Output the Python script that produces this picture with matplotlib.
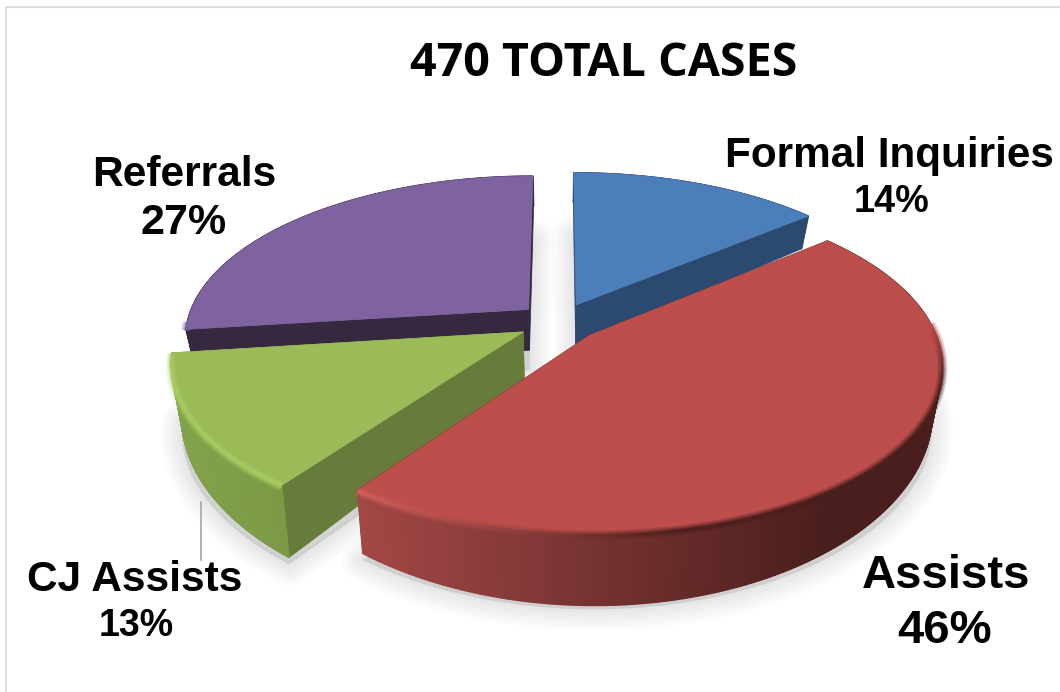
#!/usr/bin/env python3
"""Exploded pseudo-3D pie of the 470 cases."""

import numpy as np
import matplotlib
matplotlib.use('Agg')
import matplotlib.pyplot as plt
from matplotlib.collections import LineCollection, PolyCollection
from matplotlib.colors import to_rgb

# data
categories = ['Formal Inquiries', 'Assists', 'CJ Assists', 'Referrals']
shares = [14, 46, 13, 27]
title = '470 TOTAL CASES'

# slice styles: top, radial wall, outer wall left/right (by screen x), rim highlight
top_colors = ['#4C7EBA', '#BC4E4B', '#9BBB59', '#7F63A0']
side_colors = ['#2C4A70', '#4A1E1C', '#677C3B', '#35283F']
wall_left = ['#2C4A70', '#A34846', '#83A24C', '#35283F']
wall_right = ['#2C4A70', '#4A1E1C', '#7C9A46', '#35283F']
rim_colors = ['#5B8CC8', '#DD6461', '#AFD465', '#8C70AE']
depth_scale = [1, 1, 1.15, 1]

# fake camera, in pixels of the 1060x692 picture
X0, Y0 = 559, 322
RX, RY = 342, 160
PERSP = 0.17
EXPLODE = 0.12
THICK = 42
THICK_PERSP = 0.38
CONVERGE = 0.027  # walls lean towards the centre at their foot


def project(u, v):
    w = 1 / (1 + PERSP * v)
    return X0 + RX * u * w, Y0 - RY * v * w


def thickness(v):
    return THICK / (1 + THICK_PERSP * v)


def foot(x):
    return x + (X0 - x) * CONVERGE


def mix(c1, c2, t):
    a, b = np.array(to_rgb(c1)), np.array(to_rgb(c2))
    return tuple(a + (b - a) * t)


fig = plt.figure(figsize=(10.6, 6.92), dpi=100)
ax = fig.add_axes([0, 0, 1, 1])
ax.set_xlim(0, 1060)
ax.set_ylim(692, 0)
ax.axis('off')

# outer frame
ax.plot([6, 6, 1060], [692, 7, 7], color='#DDDDDD', lw=1.5, zorder=0)

# compute the slices, clockwise from twelve o'clock
edges = np.cumsum([0] + shares) / sum(shares) * 2 * np.pi
slices = []
for i in range(len(shares)):
    a0, a1 = edges[i], edges[i + 1]
    mid = (a0 + a1) / 2
    ou, ov = EXPLODE * np.sin(mid), EXPLODE * np.cos(mid)
    t = np.linspace(a0, a1, 240)
    slices.append((ou + np.sin(t), ov + np.cos(t), ou, ov))

# soft shadows go under everything
for i, (u, v, ou, ov) in enumerate(slices):
    ru = np.r_[ou, u]
    rv = np.r_[ov, v]
    px, py = project(ru, rv)
    py = py + thickness(rv) * depth_scale[i] + 5 + 14 * (1 + rv)
    for lw in [30, 25, 20, 15, 10, 5]:
        ax.fill(foot(px), py, facecolor='#000000', edgecolor='#000000', alpha=0.014,
                lw=lw, joinstyle='round', zorder=1)

# back to front
for rank, i in enumerate([3, 0, 2, 1]):
    u, v, ou, ov = slices[i]
    z = 10 + rank
    ax_px, ax_py = project(ou, ov)
    px, py = project(u, v)
    d = thickness(v) * depth_scale[i]
    d0 = thickness(np.array(ov)) * depth_scale[i]

    # radial walls
    for j in [0, -1]:
        wall = [(ax_px, ax_py), (px[j], py[j]), (foot(px[j]), py[j] + d[j]), (foot(ax_px), ax_py + d0)]
        ax.fill(*zip(*wall), color=side_colors[i], lw=0.5, zorder=z)

    # outer wall, shaded by screen x
    quads, cols = [], []
    span = (px.min(), min(px.max(), 830) if i == 1 else px.max())
    for j in range(len(px) - 1):
        quads.append([(px[j], py[j]), (px[j + 1], py[j + 1]),
                      (foot(px[j + 1]), py[j + 1] + d[j + 1]), (foot(px[j]), py[j] + d[j])])
        t = np.clip((px[j] - span[0]) / (span[1] - span[0]), 0, 1)
        cols.append(mix(wall_left[i], wall_right[i], t))
    ax.add_collection(PolyCollection(quads, facecolors=cols, edgecolors=cols, lw=1.0, zorder=z + 0.1))

    # top face
    ax.fill(np.r_[ax_px, px], np.r_[ax_py, py], color=top_colors[i], lw=0.5, zorder=z + 0.2)

    # rim bevel on the near side: bright on the left, dark towards the right
    pts = np.column_stack([px, py + 1.0])
    keep = v[:-1] < 0
    segs = np.stack([pts[:-1], pts[1:]], axis=1)[keep]
    seg_cols = []
    for j in np.where(keep)[0]:
        near = np.clip(-v[j] * 3, 0, 1)
        t = np.clip((px[j] - span[0]) / (span[1] - span[0]), 0, 1)
        if i == 1:
            target = mix(rim_colors[i], wall_right[i], min(1, t * 1.5))
        else:
            target = rim_colors[i]
        seg_cols.append(mix(top_colors[i], target, near))
    if len(segs):
        for lw, alpha in [(7, 0.25), (4.5, 0.35), (2.5, 0.6)]:
            ax.add_collection(LineCollection(segs, colors=seg_cols, lw=lw, alpha=alpha,
                                             capstyle='butt', zorder=z + 0.3))

# leader line of CJ Assists
ax.plot([201, 201], [502, 560], color='#A6A6A6', lw=1.2, zorder=40)

# texts
arial = 'Liberation Sans'
ax.text(604, 64, title, ha='center', va='center', fontsize=33.6, fontweight='bold',
        family='Open Sans', color='black', zorder=50)
labels = [(889, 156, 30.4, 891, 202, 27.2), (946, 576, 34, 945, 631, 34),
          (135, 580, 30.5, 136, 626, 27), (184, 175, 30.5, 184, 223, 31)]
for name, share, (x1, y1, s1, x2, y2, s2) in zip(categories, shares, labels):
    ax.text(x1, y1, name, ha='center', va='center', fontsize=s1, fontweight='bold',
            family=arial, color='black', zorder=50)
    ax.text(x2, y2, f'{share}%', ha='center', va='center', fontsize=s2, fontweight='bold',
            family=arial, color='black', zorder=50)

fig.savefig('out.png', dpi=100, facecolor='white')
